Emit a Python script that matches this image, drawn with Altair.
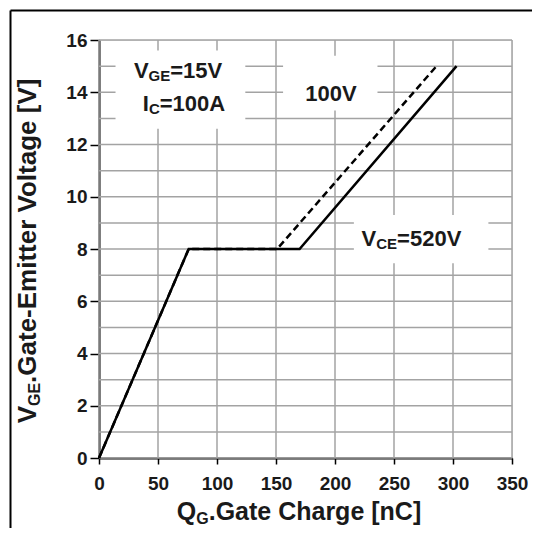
import altair as alt
import pandas as pd

# ---------------- data ----------------
q_520 = [0, 76, 170, 303]
v_520 = [0, 8, 8, 15]
q_100 = [0, 76, 151, 286]
v_100 = [0, 8, 8, 15]

x_ticks = [0, 50, 100, 150, 200, 250, 300, 350]
y_ticks = [0, 2, 4, 6, 8, 10, 12, 14, 16]
y_grid = list(range(0, 17))
x_grid = x_ticks

# white label backgrounds (data units)
box_x1 = [14, 156, 216]
box_x2 = [124, 236, 330]
box_y1 = [12.6, 13.3, 7.45]
box_y2 = [15.6, 15.4, 9.3]

# annotations: (center q, center v, pieces [(text, size, is_sub)])
ann_q = [67, 72, 196.6, 264.8]
ann_v = [14.85, 13.6, 13.97, 8.42]
ann_pieces = [
    [("V", 22, False), ("GE", 15, True), ("=15V", 22, False)],
    [("I", 22, False), ("C", 15, True), ("=100A", 22, False)],
    [("100V", 22, False)],
    [("V", 22, False), ("CE", 15, True), ("=520V", 22, False)],
]
x_title = [("Q", 25, False), ("G", 16, True), (".Gate Charge [nC]", 25, False)]
y_title = [("V", 26, False), ("GE", 16, True), (".Gate-Emitter Voltage [V]", 26, False)]

FONT = "Liberation Sans"
TXT = "#1a1a1a"
W = {' ': .278, '.': .278, '-': .333, '=': .584, '[': .333, ']': .333,
     'A': .722, 'C': .722, 'E': .667, 'G': .778, 'I': .278, 'Q': .778, 'V': .667,
     'a': .556, 'e': .556, 'g': .611, 'h': .611, 'i': .278, 'l': .278, 'm': .889,
     'n': .611, 'o': .611, 'r': .389, 't': .333}


def tw(s, size):
    return sum(W.get(c, .556) for c in s) * size


def layout(pieces):
    offs, o = [], 0.0
    for t, s, sub in pieces:
        offs.append(o)
        o += tw(t, s)
    return offs, o


xsc = alt.Scale(domain=[0, 350], nice=False, zero=False)
ysc = alt.Scale(domain=[0, 16], nice=False, zero=False)
x_axis = alt.Axis(values=x_ticks, title=None, grid=False, domainColor="black", domainWidth=2,
                  tickColor="black", tickWidth=1.5, tickSize=6, labelFont=FONT,
                  labelFontWeight="bold", labelFontSize=19, labelColor=TXT, labelPadding=10,
                  labelFlush=False)
y_axis = alt.Axis(values=y_ticks, title=None, grid=False, domainColor="black", domainWidth=2,
                  tickColor="black", tickWidth=1.5, tickSize=9, labelFont=FONT,
                  labelFontWeight="bold", labelFontSize=19, labelColor=TXT, labelPadding=3)


def X(f="q"):
    return alt.X(f + ":Q", scale=xsc, axis=x_axis)


def Y(f="v"):
    return alt.Y(f + ":Q", scale=ysc, axis=y_axis)


layers = []

grid_col = "#a3a3a3"
layers.append(alt.Chart(pd.DataFrame({"v": y_grid})).mark_rule(color=grid_col, strokeWidth=1.5)
              .encode(y=Y()))
layers.append(alt.Chart(pd.DataFrame({"q": x_grid})).mark_rule(color=grid_col, strokeWidth=1.5)
              .encode(x=X()))

boxes = pd.DataFrame({"q": box_x1, "q2": box_x2, "v": box_y1, "v2": box_y2})
layers.append(alt.Chart(boxes).mark_rect(fill="white")
              .encode(x=X(), x2="q2:Q", y=Y(), y2="v2:Q"))

layers.append(alt.Chart(pd.DataFrame({"q": q_100, "v": v_100, "o": range(len(q_100))}))
              .mark_line(color="black", strokeWidth=2.5, strokeDash=[7, 4])
              .encode(x=X(), y=Y(), order="o:Q"))
layers.append(alt.Chart(pd.DataFrame({"q": q_520, "v": v_520, "o": range(len(q_520))}))
              .mark_line(color="black", strokeWidth=2.5)
              .encode(x=X(), y=Y(), order="o:Q"))

# annotations
for cq, cv, pieces in zip(ann_q, ann_v, ann_pieces):
    offs, tot = layout(pieces)
    main = max(p[1] for p in pieces)
    base = 0.716 * main / 2
    for (t, s, sub), o in zip(pieces, offs):
        layers.append(alt.Chart(alt.Data(values=[{"q": cq, "v": cv}]))
                      .mark_text(text=t, font=FONT, fontWeight="bold", fontSize=s, color=TXT,
                                 align="left", baseline="alphabetic",
                                 dx=-tot / 2 + o, dy=base + (3 if sub else 0))
                      .encode(x=X(), y=Y()))

# x title (pixel positions relative to plot origin)
offs, tot = layout(x_title)
for (t, s, sub), o in zip(x_title, offs):
    layers.append(alt.Chart(alt.Data(values=[{}]))
                  .mark_text(text=t, font=FONT, fontWeight="bold", fontSize=s, color=TXT,
                             align="left", baseline="alphabetic", dx=o, dy=(4 if sub else 0))
                  .encode(x=alt.value(200 - tot / 2), y=alt.value(480)))

# y title (rotated; dx/dy act in the rotated frame)
offs, tot = layout(y_title)
for (t, s, sub), o in zip(y_title, offs):
    layers.append(alt.Chart(alt.Data(values=[{}]))
                  .mark_text(text=t, font=FONT, fontWeight="bold", fontSize=s, color=TXT,
                             align="left", baseline="alphabetic", angle=270,
                             dx=o, dy=(4 if sub else 0))
                  .encode(x=alt.value(-63), y=alt.value(210 + tot / 2)))

# outer frame (top and left edges)
layers.append(alt.Chart(alt.Data(values=[{}])).mark_rule(color="black", strokeWidth=2)
              .encode(x=alt.value(-88.5), x2=alt.value(445), y=alt.value(-29.5)))
layers.append(alt.Chart(alt.Data(values=[{}])).mark_rule(color="black", strokeWidth=2)
              .encode(x=alt.value(-88.5), y=alt.value(-29.5), y2=alt.value(500)))

chart = (alt.layer(*layers)
         .properties(width=413, height=418,
                     autosize=alt.AutoSizeParams(type="none"),
                     padding={"left": 91, "top": 32, "right": 20, "bottom": 70})
         .configure_view(stroke=None)
         .configure(background="white"))

chart.save("out.html", embed_options={"renderer": "svg", "actions": False})
